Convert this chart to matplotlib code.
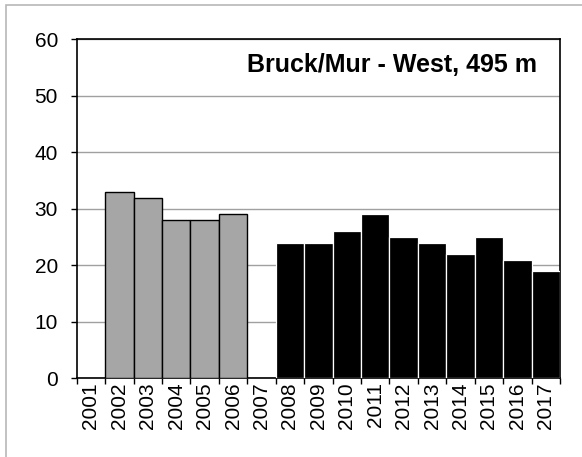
import matplotlib.pyplot as plt
from matplotlib.patches import Rectangle

years = [str(y) for y in range(2001, 2018)]
gray_values = [None, 33, 32, 28, 28, 29, None, None, None, None, None, None, None, None, None, None, None]
black_values = [None, None, None, None, None, None, None, 24, 24, 26, 29, 25, 24, 22, 25, 21, 19]
title = "Bruck/Mur - West, 495 m"

plt.rcParams['font.family'] = ['Liberation Sans', 'DejaVu Sans']

fig = plt.figure(figsize=(5.82, 4.57), dpi=100)
# light gray outer frame (clipped at right and bottom like the original)
fig.patches.append(Rectangle((5.5 / 582, -0.1), 1.2, 1 - 5.5 / 457 + 0.1,
                             transform=fig.transFigure, fill=False,
                             edgecolor='#b8b8b8', linewidth=1.2))

ax = fig.add_axes([76.7 / 582, 1 - 378.3 / 457, (560 - 76.7) / 582, (378.3 - 39.3) / 457])

xs = list(range(len(years)))
gx = [x for x, v in zip(xs, gray_values) if v is not None]
gv = [v for v in gray_values if v is not None]
bx = [x for x, v in zip(xs, black_values) if v is not None]
bv = [v for v in black_values if v is not None]

ax.bar(gx, gv, width=1.0, color='#a6a6a6', edgecolor='black', linewidth=1.0, zorder=3)
ax.bar(bx, bv, width=1.0, color='black', edgecolor='white', linewidth=0.9, zorder=3)

ax.set_xlim(-0.5, len(years) - 0.5)
ax.set_ylim(0, 60)
ax.set_yticks(range(0, 61, 10))
ax.yaxis.grid(True, color='#a0a0a0', linewidth=1.0, zorder=0)
ax.set_axisbelow(True)

# boundaries get the tick marks, labels sit centred under the bars
ax.set_xticks([x - 0.5 for x in range(len(years) + 1)])
ax.set_xticklabels([])
ax.set_xticks(xs, minor=True)
ax.set_xticklabels(years, minor=True, rotation=90)
ax.tick_params(axis='x', which='major', direction='out', length=4.5, width=1.0)
ax.tick_params(axis='x', which='minor', length=0, labelsize=15, pad=3)
ax.tick_params(axis='y', direction='out', length=4.5, width=1.0, labelsize=15, pad=9)

for s in ax.spines.values():
    s.set_linewidth(1.2)
    s.set_color('black')

ax.text(0.952, 0.924, title, transform=ax.transAxes, ha='right', va='center',
        fontsize=18, fontweight='bold')

fig.savefig('out.png', dpi=100)
